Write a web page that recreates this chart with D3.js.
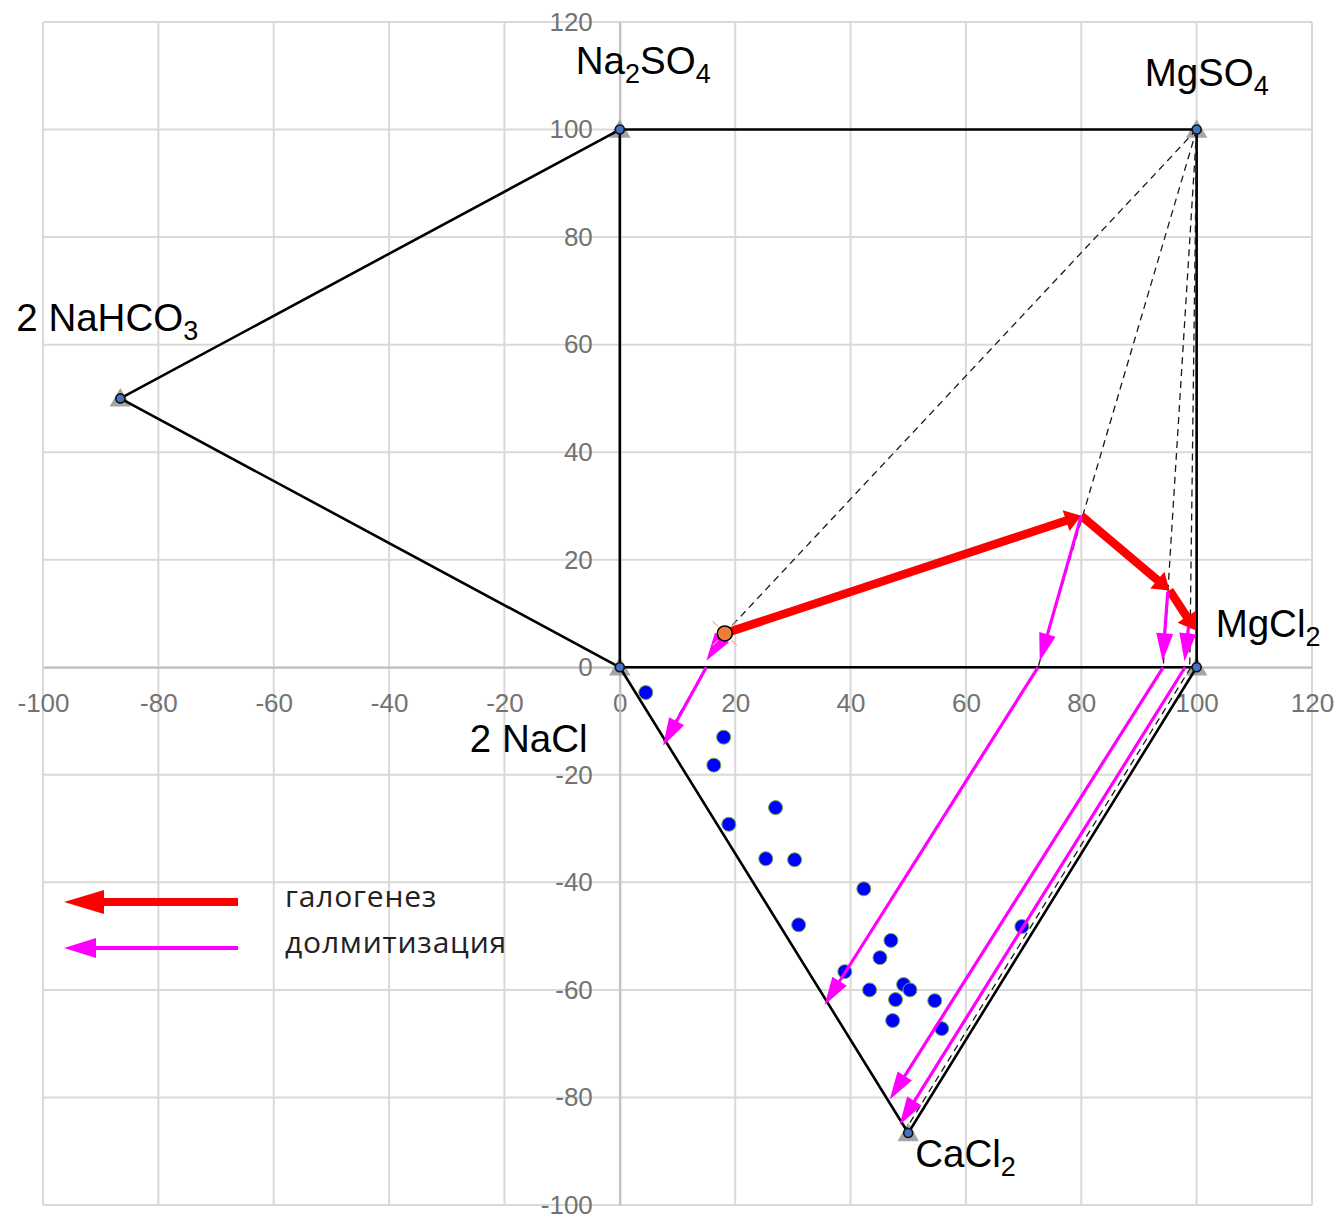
<!DOCTYPE html>
<html><head><meta charset="utf-8">
<script src="https://cdn.jsdelivr.net/npm/d3@7"></script>
<style>body{margin:0;background:#fff} svg{display:block}</style>
</head><body><svg id="c" width="1343" height="1214"></svg>
<script>
// ---------- data ----------
const xTickValues = [-100,-80,-60,-40,-20,0,20,40,60,80,100,120];
const yTickValues = [-100,-80,-60,-40,-20,0,20,40,60,80,100,120];

const squareOutline = [[0,0],[0,100],[100,100],[100,0],[0,0]];
const bicarbonateTriangle = [[0,100],[-86.6,50],[0,0]];
const chlorideTriangle = [[0,0],[50,-86.6],[100,0]];
const vertexPoints = [[0,0],[0,100],[100,100],[100,0],[-86.6,50],[50,-86.6]];

const sampleX = [4.5,18.0,16.3,27.0,18.9,25.3,30.3,42.3,31.0,69.7,47.0,45.1,39.0,43.3,49.2,50.3,47.8,54.6,47.3,55.8];
const sampleY = [-4.7,-13.0,-18.2,-26.1,-29.2,-35.6,-35.8,-41.2,-47.9,-48.2,-50.8,-54.0,-56.6,-60.0,-59.0,-60.0,-61.8,-62.0,-65.7,-67.2];

const startPoint = [18.2,6.3];
const halogenesisPath = [[18.2,6.3],[80,28.2],[95.3,14.3],[99.8,6.9]];

const dolomitizationArrows = [
  [[18.2,6.3],[15.0,1.2]],
  [[15.0,0],[7.5,-14.6]],
  [[80,28.2],[72.8,1.1]],
  [[72.5,0],[35.5,-62.8]],
  [[95.0,14.0],[94.1,1.1]],
  [[98.6,7.6],[97.9,1.1]],
  [[94.2,0],[46.8,-80.4]],
  [[98.0,0],[48.5,-85.1]]
];

const dashedGuides = [
  [[100,100],[18.2,6.3]],
  [[100,100],[72.5,0]],
  [[100,100],[94.2,0]],
  [[100,100],[98.8,0]],
  [[15.0,0],[7.6,-13.8]],
  [[99.0,0],[49.6,-85.9]]
];

const vertexLabels = [
  {at:[0,100],   parts:[["Na",0],["2",1],["SO",0],["4",1]]},
  {at:[100,100], parts:[["MgSO",0],["4",1]]},
  {at:[-86.6,50],parts:[["2 NaHCO",0],["3",1]]},
  {at:[100,0],   parts:[["MgCl",0],["2",1]]},
  {at:[0,0],     parts:[["2 NaCl",0]]},
  {at:[50,-86.6],parts:[["CaCl",0],["2",1]]}
];
const labelOffsets = [[-44,-56],[-52,-44],[-104,-67],[19,-30],[-150,85],[7,34]];

const legendNames = ["галогенез","долмитизация"];
const legendColors = ["#ff0000","#ff00ff"];

// ---------- drawing ----------
const svg = d3.select("#c");
svg.append("rect").attr("width",1343).attr("height",1214).attr("fill","#fff");

const x = d3.scaleLinear().domain([-100,120]).range([43,1312]);
const y = d3.scaleLinear().domain([-100,120]).range([1205,22]);
const fmt = d => String(d);

// grid
const grid = svg.append("g");
grid.selectAll("line.v").data(xTickValues).join("line")
  .attr("x1",d=>x(d)).attr("x2",d=>x(d)).attr("y1",y(120)).attr("y2",y(-100))
  .attr("stroke","#d9d9d9").attr("stroke-width",2);
grid.selectAll("line.h").data(yTickValues).join("line").attr("class","h")
  .attr("y1",d=>y(d)).attr("y2",d=>y(d)).attr("x1",x(-100)).attr("x2",x(120))
  .attr("stroke","#d9d9d9").attr("stroke-width",2);

// axes
const xAxis = d3.axisBottom(x).tickValues(xTickValues).tickSize(0).tickPadding(26).tickFormat(fmt);
const gx = svg.append("g").attr("transform",`translate(0,${y(0)})`).call(xAxis);
gx.select(".domain").attr("stroke","#bfbfbf").attr("stroke-width",2);
gx.selectAll("text").attr("font-family","Liberation Sans, Arial, sans-serif").attr("font-size",26).attr("fill","#737373");

const yAxis = d3.axisLeft(y).tickValues(yTickValues).tickSize(0).tickPadding(27).tickFormat(fmt);
const gy = svg.append("g").attr("transform",`translate(${x(0)},0)`).call(yAxis);
gy.select(".domain").attr("stroke","#bfbfbf").attr("stroke-width",2);
gy.selectAll("text").attr("font-family","Liberation Sans, Arial, sans-serif").attr("font-size",26).attr("fill","#737373");

// vertex triangles (grey markers)
const sym = d3.symbol().type(d3.symbolTriangle).size(200);
svg.append("g").selectAll("path").data(vertexPoints).join("path")
  .attr("d",sym).attr("transform",d=>`translate(${x(d[0])},${y(d[1])+2})`)
  .attr("fill","#a5a5a5");

// outlines
const line = d3.line().x(d=>x(d[0])).y(d=>y(d[1]));
[squareOutline,bicarbonateTriangle,chlorideTriangle].forEach(p=>{
  svg.append("path").attr("d",line(p)).attr("fill","none").attr("stroke","#000").attr("stroke-width",2.6).attr("stroke-linejoin","round");
});

// dashed guides
svg.append("g").selectAll("path").data(dashedGuides).join("path")
  .attr("d",d=>line(d)).attr("fill","none").attr("stroke","#1a1a1a").attr("stroke-width",1.3).attr("stroke-dasharray","7,5");

// sample points
svg.append("g").selectAll("circle").data(sampleX.map((v,i)=>[v,sampleY[i]])).join("circle")
  .attr("cx",d=>x(d[0])).attr("cy",d=>y(d[1])).attr("r",7)
  .attr("fill","#0000ff").attr("stroke","#70ad47").attr("stroke-width",1);

// arrow helper
function arrow(g, p0, p1, color, width, headLen, headHalf){
  const a = [x(p0[0]),y(p0[1])], b=[x(p1[0]),y(p1[1])];
  const dx=b[0]-a[0], dy=b[1]-a[1], L=Math.hypot(dx,dy), ux=dx/L, uy=dy/L;
  const base=[b[0]-ux*headLen, b[1]-uy*headLen];
  g.append("line").attr("x1",a[0]).attr("y1",a[1]).attr("x2",base[0]+ux*2).attr("y2",base[1]+uy*2)
    .attr("stroke",color).attr("stroke-width",width);
  g.append("polygon").attr("points",[
    b, [base[0]-uy*headHalf, base[1]+ux*headHalf], [base[0]+uy*headHalf, base[1]-ux*headHalf]
  ].map(p=>p.join(",")).join(" ")).attr("fill",color);
}

// halogenesis (red)
const gRed = svg.append("g");
for(let i=0;i<halogenesisPath.length-1;i++){
  arrow(gRed, halogenesisPath[i], halogenesisPath[i+1], "#ff0000", 8.5, 16, 11);
}

// dolomitization (magenta)
const gMag = svg.append("g");
dolomitizationArrows.forEach(d=>arrow(gMag, d[0], d[1], "#ff00ff", 3.2, 28, 8.5));

// start point (orange)
const sx=x(startPoint[0]), sy=y(startPoint[1]);
[[-1,-1],[1,-1],[-1,1],[1,1]].forEach(s=>{
  svg.append("line").attr("x1",sx+s[0]*7).attr("y1",sy+s[1]*7).attr("x2",sx+s[0]*12).attr("y2",sy+s[1]*12)
    .attr("stroke","#f4b183").attr("stroke-width",1.2);
});
svg.append("circle").attr("cx",sx).attr("cy",sy).attr("r",7.5).attr("fill","#ed7d31").attr("stroke","#000").attr("stroke-width",1.5);

// vertex dots
svg.append("g").selectAll("circle").data(vertexPoints).join("circle")
  .attr("cx",d=>x(d[0])).attr("cy",d=>y(d[1])).attr("r",4.5)
  .attr("fill","#4472c4").attr("stroke","#111").attr("stroke-width",1.6);

// vertex labels
vertexLabels.forEach((lab,i)=>{
  const t = svg.append("text").attr("x",x(lab.at[0])+labelOffsets[i][0]).attr("y",y(lab.at[1])+labelOffsets[i][1])
    .attr("font-family","Liberation Sans, Arial, sans-serif").attr("font-size",38.5).attr("fill","#000");
  let prevSub=false;
  lab.parts.forEach(p=>{
    const ts=t.append("tspan").text(p[0]);
    if(p[1]){ ts.attr("font-size",27).attr("dy",9); prevSub=true; }
    else if(prevSub){ ts.attr("dy",-9); prevSub=false; }
  });
});

// legend
const legendY = [902, 948];
const legendTextY = [907, 953];
const legendWidths = [8, 4];
const legendHeads = [[40,12],[32,10]];
legendNames.forEach((name,i)=>{
  const g = svg.append("g");
  const x0=238, x1=64, yy=legendY[i];
  g.append("line").attr("x1",x0).attr("x2",x1+legendHeads[i][0]-2).attr("y1",yy).attr("y2",yy)
    .attr("stroke",legendColors[i]).attr("stroke-width",legendWidths[i]);
  g.append("polygon").attr("points",`${x1},${yy} ${x1+legendHeads[i][0]},${yy-legendHeads[i][1]} ${x1+legendHeads[i][0]},${yy+legendHeads[i][1]}`)
    .attr("fill",legendColors[i]);
  g.append("text").attr("x",285).attr("y",legendTextY[i])
    .attr("font-family","Open Sans, sans-serif").attr("font-size",30).attr("letter-spacing",0.8).attr("fill","#222")
    .text(name);
});
</script></body></html>
